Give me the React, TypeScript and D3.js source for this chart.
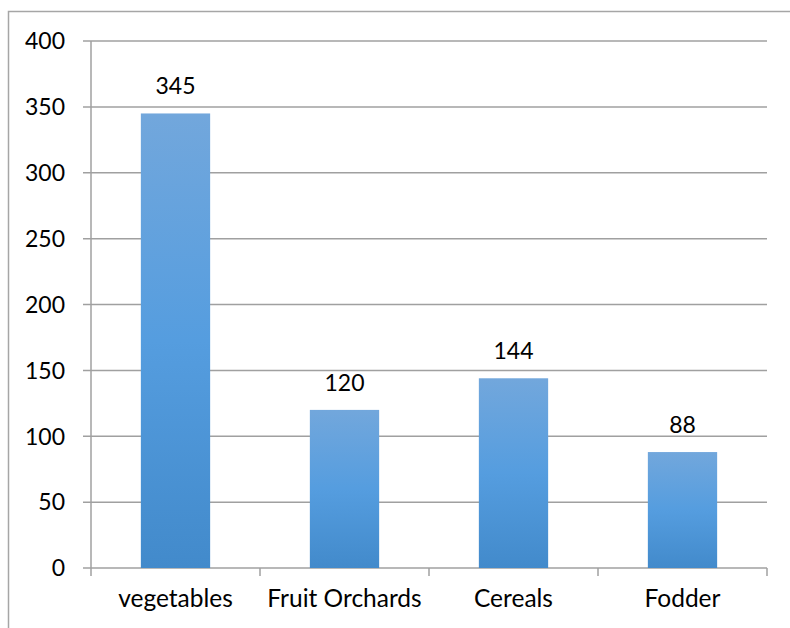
import React from "react";
import * as d3 from "d3";

const categories = ["vegetables", "Fruit Orchards", "Cereals", "Fodder"];
const values = [345, 120, 144, 88];
const yTicks = [0, 50, 100, 150, 200, 250, 300, 350, 400];

const W = 790;
const H = 628;
const M = { left: 91, right: 767, top: 41, bottom: 568 };
const FONT = "Lato, 'Open Sans', sans-serif";
const FS = 23;

export default function App() {
  const x = d3.scaleBand<string>().domain(categories).range([M.left, M.right]).paddingInner(0.59).paddingOuter(0.295);
  const xOuter = d3.scaleBand<string>().domain(categories).range([M.left, M.right]);
  const y = d3.scaleLinear().domain([0, 400]).range([M.bottom, M.top]);

  return (
    <svg width={W} height={H} style={{ position: "absolute", left: 0, top: 0, display: "block" }}>
      <defs>
        <linearGradient id="barGrad" x1="0" y1="0" x2="0" y2="1">
          <stop offset="0%" stopColor="#72a7dc" />
          <stop offset="50%" stopColor="#559ddf" />
          <stop offset="100%" stopColor="#428acb" />
        </linearGradient>
      </defs>
      <rect x={0} y={0} width={W} height={H} fill="#fff" />
      <rect x={8.5} y={11.5} width={W + 10} height={H + 10} fill="none" stroke="#a6a6a6" strokeWidth={1.5} />
      {yTicks.map((t) => (
        <g key={t}>
          <line x1={M.left - 8} x2={M.right} y1={y(t)} y2={y(t)} stroke="#a0a0a0" strokeWidth={1.5} />
          <text x={65} y={y(t)} dy="0.36em" textAnchor="end" fontFamily={FONT} fontSize={FS} fill="#000">
            {t}
          </text>
        </g>
      ))}
      <line x1={M.left} x2={M.left} y1={M.top} y2={M.bottom} stroke="#a0a0a0" strokeWidth={1.5} />
      {categories.map((c, i) => (
        <line key={"tk" + i} x1={xOuter(c)!} x2={xOuter(c)!} y1={M.bottom} y2={M.bottom + 8} stroke="#a0a0a0" strokeWidth={1.5} />
      ))}
      <line x1={M.right} x2={M.right} y1={M.bottom} y2={M.bottom + 8} stroke="#a0a0a0" strokeWidth={1.5} />
      {categories.map((c, i) => (
        <g key={c}>
          <rect x={x(c)!} y={y(values[i])} width={x.bandwidth()} height={y(0) - y(values[i])} fill="url(#barGrad)" />
          <text x={x(c)! + x.bandwidth() / 2} y={y(values[i]) - 19} textAnchor="middle" fontFamily={FONT} fontSize={FS} fill="#000">
            {values[i]}
          </text>
          <text x={x(c)! + x.bandwidth() / 2} y={607} textAnchor="middle" fontFamily={FONT} fontSize={24.5} fill="#000">
            {c}
          </text>
        </g>
      ))}
    </svg>
  );
}
